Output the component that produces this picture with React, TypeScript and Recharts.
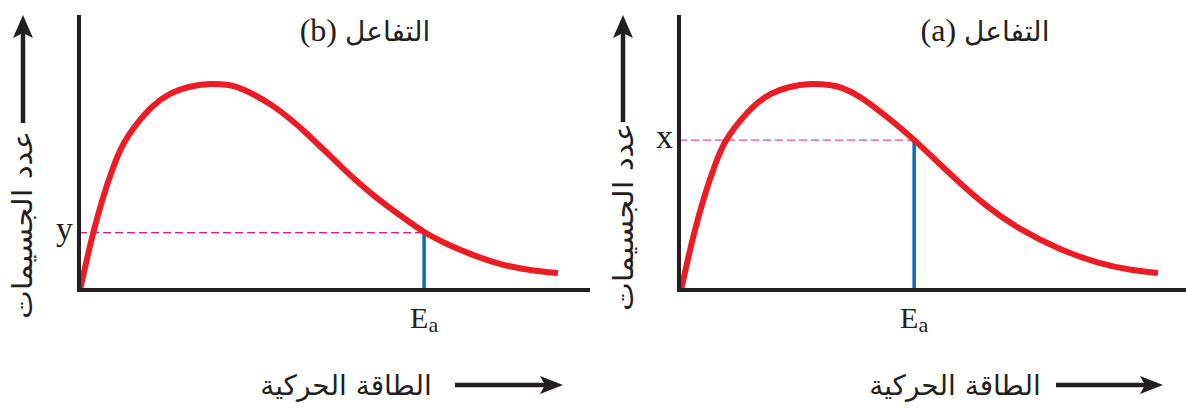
import React from 'react';
import { LineChart, Line, XAxis, YAxis, ReferenceLine } from 'recharts';

// Panel (b) – left
const leftEnergy = [0.2, 1.4, 2.75, 4.7, 6.7, 8.6, 11.4, 14.5, 17.9, 21.2, 25.7, 29.7, 31.6, 38.1, 44.8, 51.3, 57.8, 64.4, 67.8, 72.3, 76.2, 82.7, 89.2, 94.1];
const leftCount = [0, 10.1, 20.9, 34.1, 45.1, 53.8, 61.2, 67.8, 72.2, 74.4, 75.8, 75.1, 74.2, 68.1, 57.5, 45.4, 34.4, 25.6, 21.0, 16.8, 13.6, 9.2, 7.0, 6.2];
const leftEa = 67.8;
const leftLevel = 21;
const leftLevelLabel = 'y';
const leftTitle = 'التفاعل';
const leftTag = '(b)';

// Panel (a) – right
const rightEnergy = [0.4, 1.6, 2.95, 4.9, 6.9, 8.8, 11.6, 14.7, 18.1, 21.4, 25.9, 29.9, 31.8, 35.6, 40.9, 46.4, 53.8, 60.5, 67.0, 74.9, 82.7, 88.6, 94.1];
const rightCount = [0, 10.1, 20.9, 34.1, 45.1, 54.2, 61.2, 67.8, 72.2, 74.4, 75.8, 75.1, 74.4, 71.1, 63.4, 54.9, 41.4, 30.4, 22.0, 14.7, 9.5, 7.3, 6.2];
const rightEa = 46.2;
const rightLevel = 54.9;
const rightLevelLabel = 'x';
const rightTitle = 'التفاعل';
const rightTag = '(a)';

const yAxisTitle = 'عدد الجسيمات';
const xAxisTitle = 'الطاقة الحركية';
const eaMain = 'E';
const eaSub = 'a';

const AXIS = '#231f20';
const RED = '#ed1c24';
const BLUE = '#0b6cb5';
const SERIF = '"Liberation Serif", "Times New Roman", serif';
const ARABIC = '"DejaVu Sans", sans-serif';

type PanelProps = {
  energy: number[];
  count: number[];
  ea: number;
  level: number;
  levelLabel: string;
  dashColor: string;
};

const Panel = ({ energy, count, ea, level, levelLabel, dashColor }: PanelProps) => {
  const data = energy.map((e, i) => ({ e, n: count[i] }));
  const LevelTick = (p: any) => (
    <text x={p.x - 6} y={p.y - 4} textAnchor="end" dominantBaseline="central" fontFamily={SERIF} fontSize={34} fill={AXIS}>
      {levelLabel}
    </text>
  );
  const EaTick = (p: any) => (
    <text x={p.x} y={p.y + 38} textAnchor="middle" fontFamily={SERIF} fill={AXIS}>
      <tspan fontSize={30}>{eaMain}</tspan>
      <tspan fontSize={22} dy={4}>{eaSub}</tspan>
    </text>
  );
  return (
    <LineChart width={600} height={410} data={data} margin={{ top: 17, left: 49, right: 12, bottom: 90 }}>
      <XAxis
        dataKey="e"
        type="number"
        domain={[0, 100]}
        ticks={[ea]}
        height={30}
        tickLine={false}
        tickSize={0}
        tickMargin={0}
        tick={EaTick}
        axisLine={{ stroke: AXIS, strokeWidth: 4, strokeLinecap: 'square' }}
        allowDataOverflow
        interval={0}
      />
      <YAxis
        type="number"
        domain={[0, 100]}
        ticks={[level]}
        width={30}
        tickLine={false}
        tickSize={0}
        tickMargin={0}
        tick={LevelTick}
        axisLine={{ stroke: AXIS, strokeWidth: 4, strokeLinecap: 'square' }}
        allowDataOverflow
        interval={0}
      />
      <ReferenceLine
        segment={[{ x: 0, y: level }, { x: ea, y: level }]}
        stroke={dashColor}
        strokeWidth={1.4}
        strokeDasharray="8 4"
        ifOverflow="visible"
      />
      <ReferenceLine
        segment={[{ x: ea, y: 0 }, { x: ea, y: level }]}
        stroke={BLUE}
        strokeWidth={3.5}
        ifOverflow="visible"
      />
      <Line
        type="basis"
        dataKey="n"
        stroke={RED}
        strokeWidth={6}
        dot={false}
        activeDot={false}
        isAnimationActive={false}
      />
    </LineChart>
  );
};

const UpArrow = ({ x, bottom }: { x: number; bottom: number }) => (
  <g>
    <line x1={x} y1={bottom} x2={x} y2={32} stroke={AXIS} strokeWidth={4.5} />
    <path d={`M ${x} 15 L ${x + 10} 38 L ${x} 33 L ${x - 10} 38 Z`} fill={AXIS} />
  </g>
);

const RightArrow = ({ x1, x2, y }: { x1: number; x2: number; y: number }) => (
  <g>
    <line x1={x1} y1={y} x2={x2 - 14} y2={y} stroke={AXIS} strokeWidth={4.5} />
    <path d={`M ${x2} ${y} L ${x2 - 23} ${y - 9} L ${x2 - 18} ${y} L ${x2 - 23} ${y + 9} Z`} fill={AXIS} />
  </g>
);

const VerticalTitle = ({ cx, cy }: { cx: number; cy: number }) => (
  <text
    x={cx}
    y={cy}
    transform={`rotate(-90 ${cx} ${cy})`}
    textAnchor="middle"
    dominantBaseline="central"
    fontFamily={ARABIC}
    fontSize={28}
    textLength={188}
    lengthAdjust="spacingAndGlyphs"
    fill={AXIS}
  >
    {yAxisTitle}
  </text>
);

const Overlay = () => (
  <svg width={1186} height={410} style={{ position: 'absolute', left: 0, top: 0, pointerEvents: 'none' }}>
    {/* titles */}
    <text x={365} y={41} textAnchor="middle" fill={AXIS}>
      <tspan fontFamily={SERIF} fontSize={32}>{leftTag}</tspan>
      <tspan fontFamily={ARABIC} fontSize={28} dx={8}>{leftTitle}</tspan>
    </text>
    <text x={985} y={41} textAnchor="middle" fill={AXIS}>
      <tspan fontFamily={SERIF} fontSize={32}>{rightTag}</tspan>
      <tspan fontFamily={ARABIC} fontSize={28} dx={8}>{rightTitle}</tspan>
    </text>

    {/* y arrows + titles */}
    <UpArrow x={23} bottom={123} />
    <UpArrow x={623} bottom={122} />
    <VerticalTitle cx={22} cy={225} />
    <VerticalTitle cx={623} cy={217} />

    {/* x arrows + titles */}
    <RightArrow x1={455} x2={563} y={385} />
    <RightArrow x1={1056} x2={1163} y={385} />
    <text x={346} y={385} textAnchor="middle" dominantBaseline="central" fontFamily={ARABIC} fontSize={28} fill={AXIS}>
      {xAxisTitle}
    </text>
    <text x={955} y={385} textAnchor="middle" dominantBaseline="central" fontFamily={ARABIC} fontSize={28} fill={AXIS}>
      {xAxisTitle}
    </text>
  </svg>
);

export default function App() {
  return (
    <div style={{ position: 'absolute', left: 0, top: 0, width: 1186, height: 410, overflow: 'hidden', background: '#fff' }}>
      <div style={{ position: 'absolute', left: 0, top: 0 }}>
        <Panel energy={leftEnergy} count={leftCount} ea={leftEa} level={leftLevel} levelLabel={leftLevelLabel} dashColor="#ec0b8d" />
      </div>
      <div style={{ position: 'absolute', left: 600, top: 0 }}>
        <Panel energy={rightEnergy} count={rightCount} ea={rightEa} level={rightLevel} levelLabel={rightLevelLabel} dashColor="#e84a9c" />
      </div>
      <Overlay />
    </div>
  );
}
